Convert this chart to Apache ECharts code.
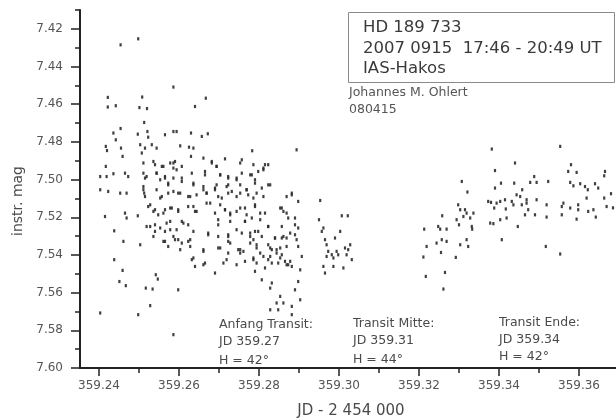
<!DOCTYPE html>
<html><head><meta charset="utf-8">
<script src="https://cdn.jsdelivr.net/npm/echarts@6/dist/echarts.min.js"></script>
<style>html,body{margin:0;padding:0;background:#fff}#c{width:616px;height:420px}</style>
</head><body><div id="c"></div>
<script>
// JD - 2 454 000
const jd = [
359.2454,359.2498,359.2586,359.2422,359.2422,359.2442,359.2508,359.2501,359.2520,359.2513,
359.2454,359.2436,359.2442,359.2497,359.2521,359.2523,359.2565,359.2586,359.2417,359.2420,
359.2455,359.2459,359.2503,359.2507,359.2515,359.2532,359.2544,359.2536,359.2557,359.2578,
359.2586,359.2417,359.2403,359.2419,359.2436,359.2465,359.2473,359.2511,359.2515,359.2511,
359.2513,359.2544,359.2553,359.2565,359.2573,359.2586,359.2403,359.2423,359.2453,359.2469,
359.2544,359.2557,359.2573,359.2465,359.2469,359.2497,359.2415,359.2438,359.2461,359.2503,
359.2438,359.2459,359.2451,359.2467,359.2542,359.2547,359.2517,359.2534,359.2528,359.2403,
359.2498,359.2523,359.2536,359.2548,359.2565,359.2578,359.2528,359.2540,359.2536,359.2553,
359.2569,359.2578,359.2565,359.2573,359.2586,359.2586,
359.2667,359.2640,359.2594,359.2630,359.2657,359.2672,359.2603,359.2625,359.2636,359.2783,
359.2630,359.2661,359.2590,359.2607,359.2682,359.2694,359.2715,359.2757,359.2786,359.2811,
359.2632,359.2665,359.2703,359.2723,359.2744,359.2757,359.2782,359.2798,359.2607,359.2636,
359.2661,359.2690,359.2719,359.2753,359.2769,359.2790,359.2807,359.2598,359.2623,359.2644,
359.2669,359.2698,359.2723,359.2744,359.2773,359.2794,359.2811,359.2598,359.2623,359.2640,
359.2669,359.2690,359.2715,359.2728,359.2744,359.2765,359.2790,359.2803,359.2607,359.2623,
359.2698,359.2728,359.2765,359.2782,359.2803,359.2594,359.2673,359.2698,359.2723,359.2757,
359.2778,359.2790,359.2807,359.2598,359.2623,359.2698,359.2728,359.2748,359.2761,359.2778,
359.2794,359.2603,359.2628,359.2661,359.2723,359.2786,359.2803,359.2632,359.2640,359.2665,
359.2711,359.2744,359.2765,359.2794,359.2690,359.2790,359.2807,359.2598,
359.2894,359.2823,359.2828,359.2869,359.2882,359.2898,359.2953,359.2853,359.2861,359.2873,
359.3007,359.3022,359.2950,359.2823,359.2857,359.2890,359.2898,359.2961,359.2957,359.3003,
359.2840,359.2857,359.2869,359.2890,359.2894,359.2965,359.2969,359.2990,359.2823,359.2832,
359.2844,359.2853,359.2857,359.2828,359.2898,359.2907,359.2973,359.2994,359.2998,359.3015,
359.3028,359.3019,359.3023,359.2969,359.2982,359.2986,359.2848,359.2865,359.2878,359.2882,
359.2869,359.2823,359.2815,359.2903,359.2961,359.2986,359.3011,359.3032,359.2965,359.2832,
359.2828,359.2898,359.2890,359.2853,359.2861,359.2844,359.2882,359.2903,359.2828,359.2848,
359.2882,
359.3382,359.3390,359.3390,359.3405,359.3307,359.3321,359.3373,359.3380,359.3394,359.3403,
359.3415,359.3432,359.3388,359.3417,359.3436,359.3298,359.3303,359.3315,359.3319,359.3311,
359.3328,359.3336,359.3258,359.3294,359.3300,359.3378,359.3386,359.3403,359.3419,359.3332,
359.3333,359.3213,359.3248,359.3253,359.3269,359.3257,359.3269,359.3244,359.3319,359.3303,
359.3323,359.3407,359.3219,359.3255,359.3211,359.3292,359.3265,359.3217,359.3261,359.3438,
359.3553,359.3580,359.3573,359.3594,359.3665,359.3663,359.3440,359.3488,359.3478,359.3494,
359.3523,359.3578,359.3586,359.3603,359.3615,359.3622,359.3640,359.3648,359.3458,359.3444,
359.3453,359.3469,359.3494,359.3619,359.3663,359.3457,359.3469,359.3473,359.3519,359.3561,
359.3557,359.3578,359.3598,359.3598,359.3636,359.3623,359.3669,359.3465,359.3490,359.3519,
359.3557,359.3594,359.3642,359.3447,359.3517,359.3553,359.3680,359.3685,
359.2511,359.2540,359.2561,359.2586,359.2594,359.2682,359.2694,359.2753,359.2815,359.2811,
359.2519,359.2544,359.2565,359.2573,359.2607,359.2636,359.2665,359.2703,359.2723,359.2744,
359.2778,359.2790,359.2823,359.2723,359.2694,
359.2511,359.2515,359.2553,359.2586,359.2603,359.2628,359.2661,359.2669,359.2690,359.2707,
359.2732,359.2753,359.2769,359.2786,359.2882,
359.2528,359.2540,359.2561,359.2582,359.2598,359.2636,359.2644,359.2678,359.2703,359.2715,
359.2728,359.2753,359.2769,359.2790,359.2815,359.2857,359.2869,359.2890,
359.2519,359.2540,359.2565,359.2578,359.2611,359.2636,359.2673,359.2698,359.2723,359.2744,
359.2765,359.2778,359.2798,359.2823,359.2840,359.2861,359.2878,
359.2561,359.2590,359.2607,359.2628,359.2661,359.2703,359.2723,359.2753,359.2786,359.2794,
359.2828,359.2844,359.2869,
359.2636,359.2661,359.2719,359.2753,359.2786,359.2811,359.2832,359.2853,359.2873
];
// instr. mag
const mag = [
7.4285,7.4253,7.4509,7.4564,7.4615,7.4608,7.4562,7.4618,7.4623,7.4697,
7.4729,7.4753,7.4789,7.4759,7.4745,7.4775,7.4762,7.4745,7.4824,7.4846,
7.4833,7.4877,7.4815,7.4859,7.4833,7.4815,7.4833,7.4904,7.4930,7.4912,
7.4939,7.4930,7.4984,7.4984,7.4969,7.4966,7.4984,7.4966,7.4992,7.5037,
7.5072,7.4966,7.5001,7.4984,7.5028,7.4992,7.5054,7.5063,7.5072,7.5072,
7.5054,7.5090,7.5072,7.5178,7.5204,7.5192,7.5196,7.5272,7.5328,7.5346,
7.5425,7.5482,7.5541,7.5563,7.5505,7.5528,7.5576,7.5581,7.5669,7.5708,
7.5717,7.5143,7.5169,7.5187,7.5160,7.5151,7.5249,7.5275,7.5302,7.5257,
7.5231,7.5266,7.5328,7.5355,7.5302,7.5823,
7.4568,7.4612,7.4745,7.4753,7.4771,7.4757,7.4821,7.4828,7.4833,7.4847,
7.4877,7.4886,7.4904,7.4930,7.4904,7.4930,7.4890,7.4895,7.4921,7.4939,
7.4966,7.4957,7.4975,7.4992,7.4992,7.4966,7.4975,7.4957,7.5010,7.5028,
7.5037,7.5045,7.5037,7.5028,7.5054,7.5019,7.5045,7.5072,7.5090,7.5081,
7.5072,7.5090,7.5072,7.5090,7.5081,7.5072,7.5090,7.5160,7.5143,7.5169,
7.5125,7.5178,7.5160,7.5187,7.5169,7.5151,7.5134,7.5178,7.5222,7.5240,
7.5213,7.5222,7.5222,7.5204,7.5213,7.5266,7.5284,7.5302,7.5293,7.5284,
7.5302,7.5275,7.5302,7.5319,7.5328,7.5363,7.5337,7.5372,7.5381,7.5337,
7.5363,7.5372,7.5355,7.5381,7.5390,7.5416,7.5390,7.5425,7.5461,7.5443,
7.5443,7.5452,7.5434,7.5443,7.5496,7.5487,7.5532,7.5585,
7.4842,7.4921,7.5028,7.5090,7.5081,7.5116,7.5111,7.5151,7.5169,7.5204,
7.5192,7.5192,7.5213,7.5249,7.5249,7.5240,7.5257,7.5257,7.5275,7.5275,
7.5310,7.5310,7.5310,7.5293,7.5319,7.5319,7.5346,7.5310,7.5346,7.5372,
7.5390,7.5363,7.5399,7.5408,7.5355,7.5408,7.5381,7.5381,7.5399,7.5363,
7.5346,7.5399,7.5372,7.5408,7.5399,7.5416,7.5443,7.5434,7.5434,7.5461,
7.5452,7.5425,7.5469,7.5479,7.5461,7.5461,7.5469,7.5425,7.5496,7.5549,
7.5576,7.5541,7.5585,7.5620,7.5655,7.5655,7.5673,7.5638,7.5691,7.5691,
7.5717,
7.4838,7.4952,7.5045,7.5019,7.5010,7.5066,7.5116,7.5121,7.5125,7.5116,
7.5107,7.5116,7.5151,7.5156,7.5134,7.5134,7.5160,7.5160,7.5178,7.5196,
7.5204,7.5178,7.5192,7.5213,7.5240,7.5231,7.5234,7.5213,7.5204,7.5249,
7.5263,7.5263,7.5249,7.5263,7.5263,7.5319,7.5328,7.5337,7.5319,7.5346,
7.5355,7.5319,7.5355,7.5387,7.5411,7.5413,7.5493,7.5514,7.5581,7.5019,
7.4824,7.4921,7.4957,7.4962,7.4957,7.4980,7.4912,7.4984,7.5015,7.5015,
7.5010,7.5015,7.5033,7.5022,7.5037,7.5054,7.5022,7.5045,7.5054,7.5081,
7.5090,7.5107,7.5107,7.5098,7.5098,7.5134,7.5125,7.5160,7.5134,7.5125,
7.5143,7.5151,7.5134,7.5160,7.5160,7.5169,7.5143,7.5187,7.5187,7.5199,
7.5187,7.5210,7.5199,7.5249,7.5355,7.5395,7.5075,7.5150,
7.4912,7.4921,7.4930,7.4912,7.4948,7.4912,7.4930,7.4912,7.4921,7.4948,
7.4984,7.4966,7.4992,7.5019,7.4992,7.5019,7.4975,7.4975,7.4984,7.5001,
7.4975,7.5001,7.5028,7.5028,7.5028,
7.5054,7.5090,7.5098,7.5063,7.5072,7.5090,7.5054,7.5072,7.5054,7.5098,
7.5063,7.5072,7.5054,7.5098,7.5072,
7.5134,7.5160,7.5178,7.5151,7.5169,7.5143,7.5169,7.5125,7.5134,7.5160,
7.5178,7.5151,7.5187,7.5143,7.5178,7.5151,7.5178,7.5204,
7.5249,7.5240,7.5275,7.5222,7.5231,7.5275,7.5293,7.5240,7.5302,7.5266,
7.5222,7.5284,7.5275,7.5249,7.5310,7.5302,7.5284,
7.5328,7.5319,7.5337,7.5319,7.5372,7.5363,7.5328,7.5372,7.5319,7.5346,
7.5363,7.5372,7.5355,
7.5416,7.5452,7.5425,7.5390,7.5425,7.5408,7.5443,7.5416,7.5452
];
const xMajorTicks = [359.24,359.26,359.28,359.30,359.32,359.34,359.36];
const xMinorTicks = [359.25,359.27,359.29,359.31,359.33,359.35];
const yMajorTicks = [7.42,7.44,7.46,7.48,7.50,7.52,7.54,7.56,7.58,7.60];
const yMinorTicks = [7.41,7.43,7.45,7.47,7.49,7.51,7.53,7.55,7.57,7.59];
const xRange = [359.23525, 359.36925];
const yRange = [7.41, 7.60];
const infoLines = ['HD 189 733', '2007 0915  17:46 - 20:49 UT', 'IAS-Hakos'];
const authorLines = ['Johannes M. Ohlert', '080415'];
const transitNotes = [
  ['Anfang Transit:', 'JD 359.27', 'H = 42°'],
  ['Transit Mitte:', 'JD 359.31', 'H = 44°'],
  ['Transit Ende:', 'JD 359.34', 'H = 42°']
];

const points = jd.map((v, i) => [v, mag[i]]);
const FONT = 'DejaVu Sans';
const chart = echarts.init(document.getElementById('c'), null, {renderer: 'canvas'});
const lineStyle = {color: '#222', width: 2};
const labelStyle = {color: '#555', fontFamily: FONT, fontSize: 12};

const notePos = [[219, [325, 342, 361]], [353, [324, 341, 360]], [499, [323, 340, 357]]];
const graphics = [];
graphics.push({type: 'rect', shape: {x: 348.5, y: 12.5, width: 266, height: 70},
  style: {fill: '#fff', stroke: '#8a8a8a', lineWidth: 1}, z: 10});
[28, 48.5, 69].forEach((y, i) => graphics.push({type: 'text', x: 363, y: y, z: 11,
  style: {text: infoLines[i], fill: '#3a3a3a', fontFamily: FONT, fontSize: 16.5, verticalAlign: 'middle'}}));
[93, 110].forEach((y, i) => graphics.push({type: 'text', x: 349, y: y, z: 11,
  style: {text: authorLines[i], fill: '#555', fontFamily: FONT, fontSize: 12.5, verticalAlign: 'middle'}}));
transitNotes.forEach((lines, k) => lines.forEach((t, i) => graphics.push({type: 'text',
  x: notePos[k][0], y: notePos[k][1][i], z: 11,
  style: {text: t, fill: '#4a4a4a', fontFamily: FONT, fontSize: 12.5, verticalAlign: 'middle'}})));
graphics.push({type: 'text', x: 351, y: 411, style: {text: 'JD - 2 454 000', fill: '#4a4a4a',
  fontFamily: FONT, fontSize: 15, align: 'center', verticalAlign: 'middle'}});
graphics.push({type: 'text', x: 18, y: 201, rotation: Math.PI / 2, style: {text: 'instr. mag', fill: '#4a4a4a',
  fontFamily: FONT, fontSize: 14, align: 'center', verticalAlign: 'middle'}});

chart.setOption({
  animation: false,
  backgroundColor: '#fff',
  grid: {left: 80, right: 0, top: 10, bottom: 52, containLabel: false},
  xAxis: [
    {type: 'value', position: 'bottom', min: xRange[0], max: xRange[1],
     axisLine: {show: true, onZero: false, lineStyle: lineStyle},
     axisTick: {show: true, length: 8, customValues: xMajorTicks, lineStyle: {color: '#222', width: 1.5}},
     axisLabel: {show: true, margin: 12, customValues: xMajorTicks, formatter: v => v.toFixed(2), ...labelStyle},
     splitLine: {show: false}},
    {type: 'value', position: 'bottom', min: xRange[0], max: xRange[1],
     axisLine: {show: false, onZero: false},
     axisTick: {show: true, length: 5, customValues: xMinorTicks, lineStyle: {color: '#222', width: 1.5}},
     axisLabel: {show: false}, splitLine: {show: false}}
  ],
  yAxis: [
    {type: 'value', position: 'left', inverse: true, min: yRange[0], max: yRange[1],
     axisLine: {show: true, onZero: false, lineStyle: lineStyle},
     axisTick: {show: true, length: 9, customValues: yMajorTicks, lineStyle: {color: '#222', width: 1.5}},
     axisLabel: {show: true, margin: 17, customValues: yMajorTicks, formatter: v => v.toFixed(2), ...labelStyle},
     splitLine: {show: false}},
    {type: 'value', position: 'left', inverse: true, min: yRange[0], max: yRange[1],
     axisLine: {show: false, onZero: false},
     axisTick: {show: true, length: 5, customValues: yMinorTicks, lineStyle: {color: '#222', width: 1.5}},
     axisLabel: {show: false}, splitLine: {show: false}}
  ],
  series: [{
    type: 'scatter', xAxisIndex: 0, yAxisIndex: 0, data: points,
    symbol: 'rect', symbolSize: [2.2, 3.2],
    itemStyle: {color: '#2b2b2b', opacity: 0.9}, silent: true
  }],
  graphic: graphics
});
</script>
</body></html>
